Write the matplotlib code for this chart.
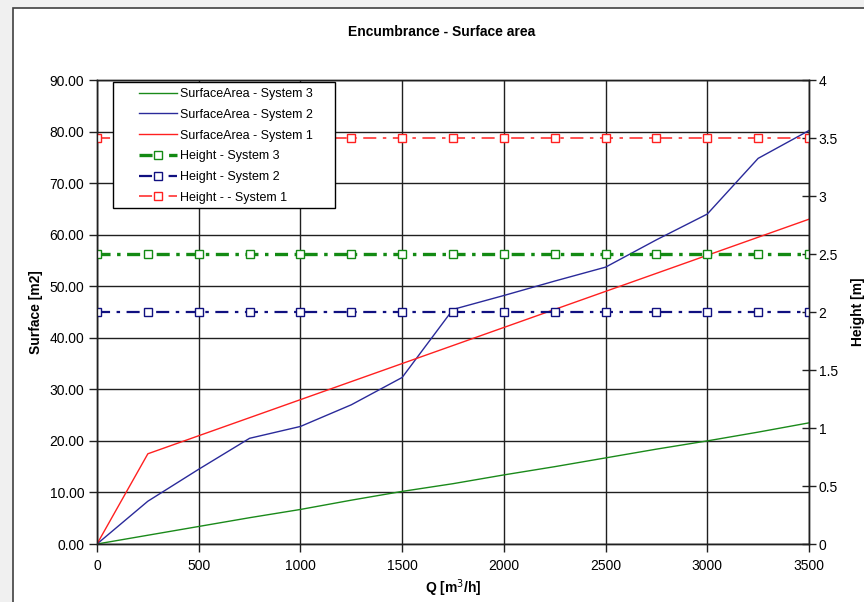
import matplotlib
matplotlib.use('Agg')
import matplotlib.pyplot as plt
from matplotlib.patches import Rectangle

plt.rcParams['font.family'] = ['Liberation Sans', 'DejaVu Sans']
plt.rcParams['lines.scale_dashes'] = False

# flow rate Q [m3/h]
q = [0, 250, 500, 750, 1000, 1250, 1500, 1750, 2000, 2250, 2500, 2750, 3000, 3250, 3500]

# surface area [m2] for each system
area_sys3 = [0, 1.7, 3.4, 5.1, 6.7, 8.5, 10.2, 11.7, 13.4, 15.0, 16.7, 18.4, 20.0, 21.7, 23.5]
area_sys2 = [0, 8.3, 14.5, 20.5, 22.8, 27.0, 32.3, 45.5, 48.2, 51.0, 53.7, 59.0, 64.0, 74.8, 80.2]
area_sys1 = [0, 17.5, 21.0, 24.5, 28.0, 31.5, 35.0, 38.5, 42.0, 45.5, 49.0, 52.5, 56.0, 59.5, 63.0]

# height [m] for each system
height_sys3 = [2.5] * 15
height_sys2 = [2.0] * 15
height_sys1 = [3.5] * 15

fig = plt.figure(figsize=(8.64, 6.02), dpi=100)
fig.patch.set_facecolor('#f0f0f0')
# white chart sheet with a dark border, kept behind the axes
fig.patches.append(Rectangle((13 / 864, -0.05), 1.0, 1 - 8 / 602 + 0.05,
                             transform=fig.transFigure, facecolor='white',
                             edgecolor='#404040', linewidth=1.2, zorder=-5))

ax = fig.add_axes([97 / 864, 1 - 544 / 602, 712 / 864, 464 / 602])
ax2 = ax.twinx()

ax.plot(q, area_sys3, color='#1a8a1a', lw=1.0, label='SurfaceArea - System 3')
ax.plot(q, area_sys2, color='#2a2a9a', lw=1.0, label='SurfaceArea - System 2')
ax.plot(q, area_sys1, color='#ff2020', lw=1.0, label='SurfaceArea - System 1')

# long dash - dot pattern, in points
dashdot = (0, (9.4, 4.7, 2.5, 4.7))
ax2.plot(q, height_sys3, color='#138a13', lw=2.4, linestyle=dashdot, marker='s',
         markersize=5.5, markerfacecolor='white', markeredgewidth=1.0,
         label='Height - System 3')
ax2.plot(q, height_sys2, color='#101080', lw=1.6, linestyle=dashdot, marker='s',
         markersize=5.5, markerfacecolor='white', markeredgewidth=1.0,
         label='Height - System 2')
ax2.plot(q, height_sys1, color='#ff2020', lw=1.1, linestyle=dashdot, marker='s',
         markersize=5.5, markerfacecolor='white', markeredgewidth=1.0,
         label='Height - - System 1')

ax.set_xlim(0, 3500)
ax.set_ylim(0, 90)
ax2.set_ylim(0, 4)
ax.set_xticks(range(0, 3501, 500))
ax.set_yticks(range(0, 91, 10))
ax.set_yticklabels(['%.2f' % v for v in range(0, 91, 10)])
ax2.set_yticks([0, 0.5, 1, 1.5, 2, 2.5, 3, 3.5, 4])
ax2.set_yticklabels(['0', '0.5', '1', '1.5', '2', '2.5', '3', '3.5', '4'])

ax.grid(True, color='#202020', linewidth=1.0)
ax.set_axisbelow(True)
for a in (ax, ax2):
    for s in a.spines.values():
        s.set_color('#202020')
        s.set_linewidth(1.0)
ax.tick_params(axis='y', labelsize=10, length=6, width=1, color='#202020', pad=3)
ax.tick_params(axis='x', labelsize=10, length=6, width=1, color='#202020', pad=5)
ax2.tick_params(axis='y', labelsize=10, length=10, width=1, direction='inout',
                color='#202020', pad=2)

ax.set_xlabel('Q [m$^3$/h]', fontsize=10, fontweight='bold', labelpad=3)
ax.set_ylabel('Surface [m2]', fontsize=10, fontweight='bold', labelpad=5)
ax2.set_ylabel('Height [m]', fontsize=10, fontweight='bold', labelpad=9)

fig.text(442 / 864, 1 - 32 / 602, 'Encumbrance - Surface area', ha='center', va='center',
         fontsize=10, fontweight='bold')

# legend box drawn separately so the handles sit well inside it
ax2.add_patch(Rectangle((16 / 712, (544 - 208) / 464), 222 / 712, 126 / 464,
                        transform=ax2.transAxes, facecolor='white', edgecolor='black',
                        linewidth=1.0, zorder=9, clip_on=False))
h1, l1 = ax.get_legend_handles_labels()
h2, l2 = ax2.get_legend_handles_labels()
leg = ax2.legend(h1 + h2, l1 + l2, loc='upper left',
                 bbox_to_anchor=((139 - 97) / 712, (544 - 88) / 464),
                 borderaxespad=0, borderpad=0, fontsize=9, handlelength=3.05,
                 handletextpad=0.25, labelspacing=0.7, frameon=False)
leg.set_zorder(10)

fig.savefig('out.png', dpi=100)
